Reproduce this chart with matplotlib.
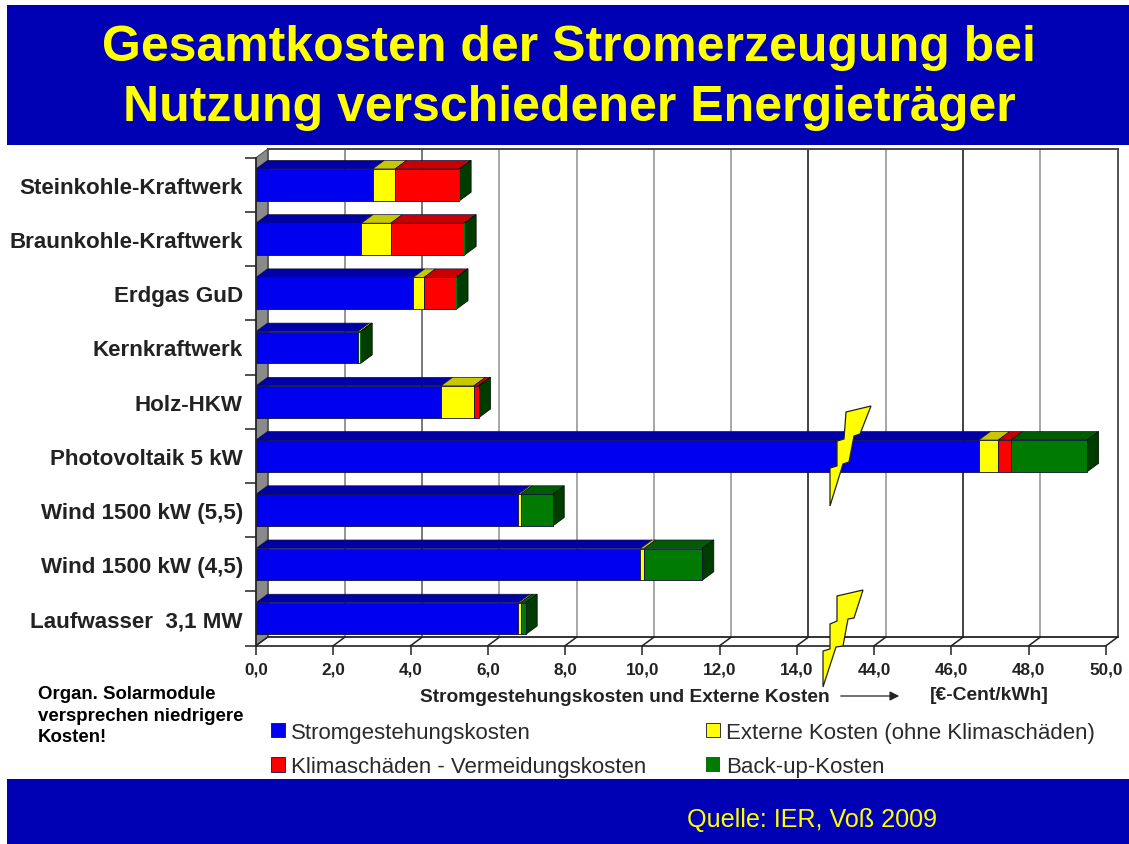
import numpy as np
import matplotlib
matplotlib.use("Agg")
import matplotlib.pyplot as plt
from matplotlib.patches import Polygon, Rectangle

plt.rcParams["font.family"] = ["Liberation Sans", "DejaVu Sans"]

W, H = 1129, 845
DX, DY = 11.5, 8.5  # depth of the fake 3D, pixels

TITLE_LINES = ["Gesamtkosten der Stromerzeugung bei", "Nutzung verschiedener Energieträger"]
NOTE_LINES = ["Organ. Solarmodule", "versprechen niedrigere", "Kosten!"]

categories = ["Steinkohle-Kraftwerk", "Braunkohle-Kraftwerk", "Erdgas GuD", "Kernkraftwerk", "Holz-HKW",
              "Photovoltaik 5 kW", "Wind 1500 kW (5,5)", "Wind 1500 kW (4,5)", "Laufwasser  3,1 MW"]
strom = [3.02, 2.73, 4.07, 2.63, 4.79, 46.71, 6.79, 9.95, 6.79]
extern = [0.58, 0.76, 0.28, 0.07, 0.85, 0.50, 0.06, 0.10, 0.06]
klima = [1.66, 1.90, 0.83, 0.00, 0.12, 0.33, 0.00, 0.00, 0.00]
backup = [0.01, 0.01, 0.01, 0.01, 0.01, 1.97, 0.83, 1.50, 0.13]

series_labels = ["Stromgestehungskosten", "Externe Kosten (ohne Klimaschäden)",
                 "Klimaschäden - Vermeidungskosten", "Back-up-Kosten"]
series_values = [strom, extern, klima, backup]
front_colors = ["#0000f0", "#ffff00", "#ff0000", "#007a00"]
top_colors = ["#0000a8", "#c8c800", "#c80000", "#005c00"]

xticks = [0, 2, 4, 6, 8, 10, 12, 14, 44, 46, 48, 50]
xtick_labels = ["0,0", "2,0", "4,0", "6,0", "8,0", "10,0", "12,0", "14,0", "44,0", "46,0", "48,0", "50,0"]
grid_colors = ["#555555", "#8c8c8c", "#6e6e6e", "#a0a0a0", "#a0a0a0", "#a0a0a0", "#a0a0a0",
               "#333333", "#a0a0a0", "#333333", "#a0a0a0", "#444444"]


def to_axis(v):
    # broken axis: 14..44 is squeezed into one tick step
    v = np.asarray(v, dtype=float)
    return np.where(v <= 14, v, np.where(v >= 44, v - 28, 14 + (v - 14) * 2 / 30))


def from_axis(p):
    p = np.asarray(p, dtype=float)
    return np.where(p <= 14, p, np.where(p >= 16, p + 28, 14 + (p - 14) * 15))


fig = plt.figure(figsize=(W / 100, H / 100), dpi=100, facecolor="white")

# pixel-space layers below and above the chart
bg = fig.add_axes([0, 0, 1, 1], zorder=0)
ov = fig.add_axes([0, 0, 1, 1], zorder=2)
for a in (bg, ov):
    a.set_xlim(0, W)
    a.set_ylim(H, 0)
    a.axis("off")
    a.patch.set_alpha(0)

bg.add_patch(Rectangle((7, 6), W - 7, 140, color="#0000b4", lw=0))
bg.add_patch(Rectangle((7, 780), W - 7, 65, color="#0000b4", lw=0))

ax = fig.add_axes([256 / W, 1 - 646.7 / H, 850 / W, 488 / H], zorder=1)
ax.patch.set_alpha(0)
ax.set_xscale("function", functions=(to_axis, from_axis))
ax.set_xlim(0, 50)
ax.set_ylim(len(categories), 0)


def shifted(x, y):
    """Move data points back by the depth offset, result in data coords."""
    pts = ax.transData.transform(np.column_stack([x, y])) + [DX, DY]
    return ax.transData.inverted().transform(pts)


def back_line(x, y, **kw):
    p = shifted(x, y)
    ax.plot(p[:, 0], p[:, 1], clip_on=False, **kw)


n = len(categories)
ypos = np.arange(n) + 0.5
bar_h = 0.585

# left wall and back wall
corners = shifted([0, 0], [n, 0])
ax.add_patch(Polygon([(0, n), corners[0], corners[1], (0, 0)], closed=True,
                     fc="#8a8a8a", ec="#555555", lw=0.8, clip_on=False, zorder=1))
for t, c in zip(xticks, grid_colors):
    back_line([t, t], [n, 0], color=c, lw=1.3, zorder=1)
    pt = shifted([t], [n])[0]
    ax.plot([t, pt[0]], [n, pt[1]], color="#222222", lw=1.1, clip_on=False, zorder=1)
back_line([0, 50], [n, n], color="#222222", lw=1.3, zorder=1)
back_line([0, 50], [0, 0], color="#444444", lw=1.4, zorder=1)

# bars, back to front so the lower bars sit over the upper ones
left = np.zeros(n)
for vals, fc, tc, lab in zip(series_values, front_colors, top_colors, series_labels):
    vals = np.array(vals)
    widths = [0.6 if v > 0.02 else 0 for v in vals]
    ax.barh(ypos, vals, left=left, height=bar_h, color=fc, edgecolor="#101040", linewidth=widths,
            zorder=3, label=lab)
    for i in range(n):
        if vals[i] <= 0:
            continue
        x0, x1 = left[i], left[i] + vals[i]
        ytop = ypos[i] - bar_h / 2
        b = shifted([x0, x1], [ytop, ytop])
        ax.add_patch(Polygon([(x0, ytop), (x1, ytop), b[1], b[0]], closed=True, fc=tc,
                             ec="#101040", lw=0.5, clip_on=False, zorder=2.5))
    left = left + vals

# dark side of each bar end
for i in range(n):
    ytop, ybot = ypos[i] - bar_h / 2, ypos[i] + bar_h / 2
    b = shifted([left[i], left[i]], [ytop, ybot])
    ax.add_patch(Polygon([(left[i], ytop), b[0], b[1], (left[i], ybot)], closed=True,
                         fc="#003c00", ec="#001800", lw=0.6, clip_on=False, zorder=2.5))

for s in ("top", "right"):
    ax.spines[s].set_visible(False)
for s in ("left", "bottom"):
    ax.spines[s].set_color("#222222")
    ax.spines[s].set_linewidth(1.2)
    ax.spines[s].set_zorder(4)

ax.set_xticks(xticks)
ax.set_xticklabels(xtick_labels, fontsize=12.3, fontweight="bold", color="#222222")
ax.xaxis.set_minor_locator(matplotlib.ticker.NullLocator())
ax.tick_params(axis="x", length=6.5, width=1.1, color="#222222", pad=5)
ax.set_xlabel("Stromgestehungskosten und Externe Kosten", x=(420 - 256) / 850, ha="left",
              fontsize=13.8, fontweight="bold", color="#222222", labelpad=8)

ax.set_yticks(np.arange(n + 1))
ax.set_yticklabels([])
ax.set_yticks(ypos, minor=True)
ax.set_yticklabels(categories, minor=True, fontsize=16.1, fontweight="bold", color="#222222")
ax.tick_params(axis="y", which="major", length=8, width=1.1, color="#222222")
ax.tick_params(axis="y", which="minor", length=0, pad=9.5)

# legend in two columns
hs, ls = ax.get_legend_handles_labels()
order = [0, 2, 1, 3]
leg = ax.legend([hs[i] for i in order], [ls[i] for i in order], ncol=2, frameon=False, fontsize=16.05,
                loc="upper left", bbox_to_anchor=(271 / W, 1 - 723 / H), bbox_transform=fig.transFigure,
                borderaxespad=0, borderpad=0, handlelength=0.62, handleheight=0.62,
                handletextpad=0.27, labelspacing=0.6, columnspacing=2.7)
for t in leg.get_texts():
    t.set_color("#2a2a2a")

# text and decoration in pixel coordinates
for line, y in zip(TITLE_LINES, [48, 108]):
    ov.text(569, y, line, ha="center", va="center", color="#ffff00", fontsize=36, fontweight="bold")
for line, y in zip(NOTE_LINES, [695, 716.5, 738]):
    ov.text(38, y, line, ha="left", va="center", color="black", fontsize=13.4, fontweight="bold")
ov.text(930, 696, "[€-Cent/kWh]", ha="left", va="center", color="#222222", fontsize=13.9, fontweight="bold")
ov.text(687, 820, "Quelle: IER, Voß 2009", ha="left", va="center", color="#ffff00", fontsize=18.1)
ov.annotate("", xy=(902, 697), xytext=(838, 697),
            arrowprops=dict(arrowstyle="-|>", color="#222222", lw=0.9, mutation_scale=14))

bolt_top = [(871, 407), (846, 413), (844, 440), (837, 442), (837, 467), (830, 469), (830, 507),
            (843, 465), (849, 463), (854, 437), (860, 435)]
bolt_low = [(863, 591), (837, 597), (837, 622), (830, 625), (830, 650), (823, 652), (823, 688),
            (836, 648), (843, 647), (848, 620), (854, 619)]
for pts in (bolt_top, bolt_low):
    ov.add_patch(Polygon(pts, closed=True, fc="#ffff00", ec="#222222", lw=0.9))

fig.savefig("out.png", dpi=100, facecolor="white")
